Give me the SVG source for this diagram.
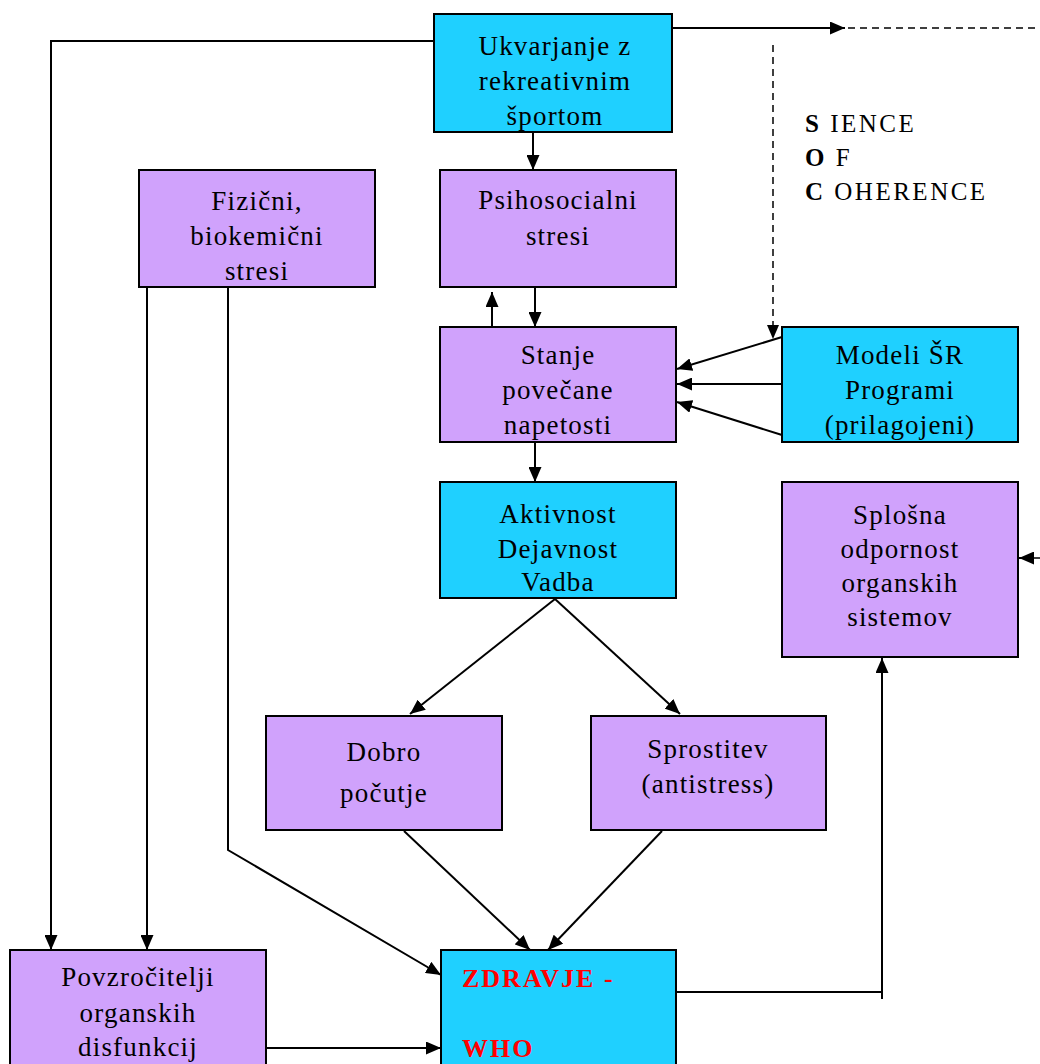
<svg xmlns="http://www.w3.org/2000/svg" width="1040" height="1064" viewBox="0 0 1040 1064">
<style>
.b{stroke:#000;stroke-width:2}
.c{fill:#1fd0ff}
.p{fill:#d0a2fc}
text{font-family:"Liberation Serif","Times New Roman",serif;font-size:27px;fill:#000;text-anchor:middle;letter-spacing:1.2px}
.red{fill:#f00;font-weight:bold;text-anchor:start;font-size:26px;letter-spacing:2px}
.soc{text-anchor:start;letter-spacing:2.5px;font-size:25px}
.ln{fill:none;stroke:#000;stroke-width:2}
.ds{fill:none;stroke:#000;stroke-width:1.5;stroke-dasharray:7,5}
</style>
<defs>
<marker id="a" viewBox="0 0 15 13" refX="15" refY="6.5" markerWidth="15" markerHeight="13" markerUnits="userSpaceOnUse" orient="auto">
<path d="M0,0 L15,6.5 L0,13 z" fill="#000"/>
</marker>
</defs>
<rect width="1040" height="1064" fill="#fff"/>
<g id="connectors">
<polyline class="ln" points="434,41 51,41 51,950" marker-end="url(#a)"/>
<line class="ln" x1="672" y1="28" x2="845" y2="28" marker-end="url(#a)"/>
<line class="ds" x1="848" y1="28" x2="1040" y2="28"/>
<line class="ds" x1="773" y1="45" x2="773" y2="330"/>
<path d="M767,325 L779,325 L773,339 z" fill="#000"/>
<line class="ln" x1="533" y1="132" x2="533" y2="170" marker-end="url(#a)"/>
<line class="ln" x1="492" y1="327" x2="492" y2="292" marker-end="url(#a)"/>
<line class="ln" x1="535" y1="287" x2="535" y2="327" marker-end="url(#a)"/>
<line class="ln" x1="782" y1="337" x2="677" y2="369" marker-end="url(#a)"/>
<line class="ln" x1="782" y1="384" x2="677" y2="384" marker-end="url(#a)"/>
<line class="ln" x1="782" y1="435" x2="677" y2="402" marker-end="url(#a)"/>
<line class="ln" x1="535" y1="442" x2="535" y2="482" marker-end="url(#a)"/>
<line class="ln" x1="555" y1="599" x2="410" y2="714" marker-end="url(#a)"/>
<line class="ln" x1="555" y1="599" x2="680" y2="714" marker-end="url(#a)"/>
<line class="ds" x1="1040" y1="558" x2="1030" y2="558"/>
<line class="ln" x1="1032" y1="558" x2="1019" y2="558" marker-end="url(#a)"/>
<polyline class="ln" points="676,992 882,992 882,658" marker-end="url(#a)"/>
<line class="ln" x1="882" y1="992" x2="882" y2="999"/>
<line class="ln" x1="404" y1="831" x2="530" y2="950" marker-end="url(#a)"/>
<line class="ln" x1="662" y1="831" x2="548" y2="950" marker-end="url(#a)"/>
<line class="ln" x1="147" y1="287" x2="147" y2="950" marker-end="url(#a)"/>
<polyline class="ln" points="228,287 228,850 441,975" marker-end="url(#a)"/>
<line class="ln" x1="266" y1="1048" x2="441" y2="1048" marker-end="url(#a)"/>
</g>
<g id="ukvarjanje">
<rect class="c b" x="434" y="14" width="238" height="118"/>
<text x="555" y="55">Ukvarjanje z</text>
<text x="555" y="90">rekreativnim</text>
<text x="555" y="125">športom</text>
</g>
<g id="soc">
<text class="soc" x="805" y="132"><tspan font-weight="bold">S</tspan> IENCE</text>
<text class="soc" x="805" y="166"><tspan font-weight="bold">O</tspan> F</text>
<text class="soc" x="805" y="200"><tspan font-weight="bold">C</tspan> OHERENCE</text>
</g>
<g id="fizicni">
<rect class="p b" x="139" y="170" width="236" height="117"/>
<text x="257" y="210">Fizični,</text>
<text x="257" y="245">biokemični</text>
<text x="257" y="280">stresi</text>
</g>
<g id="psihosocialni">
<rect class="p b" x="440" y="170" width="236" height="117"/>
<text x="558" y="209">Psihosocialni</text>
<text x="558" y="245">stresi</text>
</g>
<g id="stanje">
<rect class="p b" x="440" y="327" width="236" height="115"/>
<text x="558" y="364">Stanje</text>
<text x="558" y="399">povečane</text>
<text x="558" y="434">napetosti</text>
</g>
<g id="modeli">
<rect class="c b" x="782" y="327" width="236" height="115"/>
<text x="900" y="364">Modeli ŠR</text>
<text x="900" y="399">Programi</text>
<text x="900" y="434">(prilagojeni)</text>
</g>
<g id="aktivnost">
<rect class="c b" x="440" y="482" width="236" height="116"/>
<text x="558" y="523">Aktivnost</text>
<text x="558" y="558">Dejavnost</text>
<text x="558" y="591">Vadba</text>
</g>
<g id="splosna">
<rect class="p b" x="782" y="482" width="236" height="175"/>
<text x="900" y="524">Splošna</text>
<text x="900" y="558">odpornost</text>
<text x="900" y="592">organskih</text>
<text x="900" y="626">sistemov</text>
</g>
<g id="dobro">
<rect class="p b" x="266" y="716" width="236" height="114"/>
<text x="384" y="761">Dobro</text>
<text x="384" y="802">počutje</text>
</g>
<g id="sprostitev">
<rect class="p b" x="591" y="716" width="235" height="114"/>
<text x="708" y="758">Sprostitev</text>
<text x="708" y="793">(antistress)</text>
</g>
<g id="povzrocitelji">
<rect class="p b" x="10" y="950" width="256" height="120"/>
<text x="138" y="986">Povzročitelji</text>
<text x="138" y="1022">organskih</text>
<text x="138" y="1056">disfunkcij</text>
</g>
<g id="zdravje">
<rect class="c b" x="441" y="950" width="235" height="120"/>
<text class="red" x="462" y="987">ZDRAVJE -</text>
<text class="red" x="462" y="1057">WHO</text>
</g>
</svg>
